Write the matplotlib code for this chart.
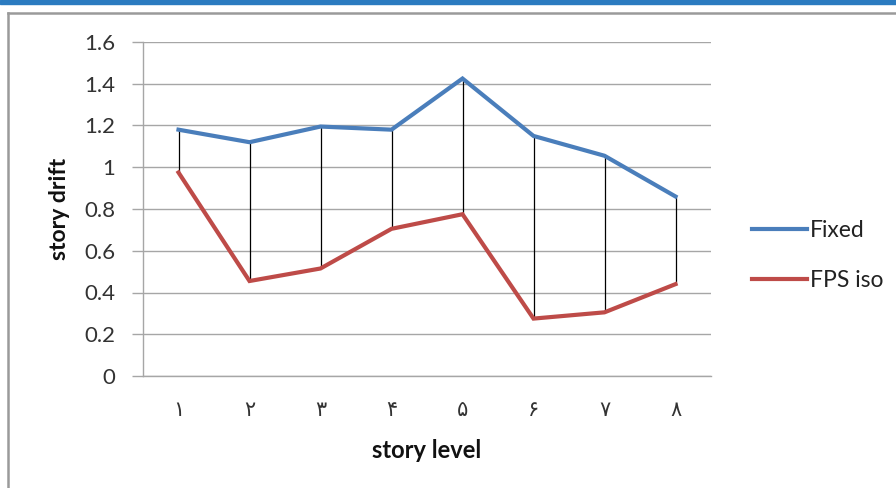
import numpy as np
import matplotlib
matplotlib.use("Agg")
import matplotlib.pyplot as plt
from matplotlib.lines import Line2D
from matplotlib.patches import Rectangle

plt.rcParams.update({
    "font.family": ["Lato", "DejaVu Sans"],
    "font.size": 14,
})

# data
levels = [1, 2, 3, 4, 5, 6, 7, 8]
level_labels = ["۱", "۲", "۳", "۴", "۵", "۶", "۷", "۸"]
fixed = [1.18, 1.12, 1.195, 1.18, 1.425, 1.15, 1.055, 0.86]
fps_iso = [0.975, 0.455, 0.515, 0.705, 0.775, 0.275, 0.305, 0.44]
yticks = [0, 0.2, 0.4, 0.6, 0.8, 1, 1.2, 1.4, 1.6]
ytick_labels = ["0", "0.2", "0.4", "0.6", "0.8", "1", "1.2", "1.4", "1.6"]

blue = "#4a7ebb"
red = "#be4b48"
grid_color = "#a6a6a6"
text_color = "#333333"

fig = plt.figure(figsize=(8.96, 4.88), dpi=100)
ax = fig.add_axes([143/896, 1-376/488, 568/896, 334/488])

# page decoration: blue band on top and grey frame
fig.patches.append(Rectangle((0, 1-4/488), 1, 4/488, transform=fig.transFigure,
                             color="#2b7bc0", zorder=0))
fig.add_artist(Line2D([8/896, 1], [1-13/488, 1-13/488], color="#9a9a9a", lw=1.8))
fig.add_artist(Line2D([8/896, 8/896], [0, 1-13/488], color="#9a9a9a", lw=1.8))

# high-low lines
ax.vlines(levels, fps_iso, fixed, colors="black", lw=0.9, zorder=2)
ax.plot(levels, fixed, color=blue, lw=3, label="Fixed", zorder=3,
        solid_joinstyle="miter")
ax.plot(levels, fps_iso, color=red, lw=3, label="FPS iso", zorder=3,
        solid_joinstyle="miter")

ax.set_xlim(0.5, 8.5)
ax.set_ylim(0, 1.6)
ax.set_yticks(yticks)
ax.set_yticklabels(ytick_labels)
ax.set_xticks(levels)
ax.set_xticklabels(level_labels, family=["DejaVu Sans"], fontsize=15, color=text_color)
ax.grid(axis="y", color=grid_color, lw=1)
ax.set_axisbelow(True)

for s in ["top", "right"]:
    ax.spines[s].set_visible(False)
for s in ["left", "bottom"]:
    ax.spines[s].set_color(grid_color)
    ax.spines[s].set_linewidth(1)
ax.tick_params(axis="y", length=8, width=1, color=grid_color, pad=12,
               labelcolor=text_color, labelsize=16)
ax.tick_params(axis="x", length=0, pad=17)

ax.set_ylabel("story drift", fontweight="bold", fontsize=16.5, color="#111111")
ax.yaxis.set_label_coords((60-143)/568, 0.5)
ax.yaxis.label.set_va("center")
ax.set_xlabel("story level", fontweight="bold", fontsize=17, color="#111111")
ax.xaxis.label.set_va("center")
ax.xaxis.set_label_coords(0.5, (376-451)/334)

leg = ax.legend(loc="center left", bbox_to_anchor=(752/896, 1-255.5/488),
                bbox_transform=fig.transFigure, frameon=False, borderpad=0,
                borderaxespad=0, handlelength=2.4, handletextpad=0.12,
                labelspacing=1.3, fontsize=16.5)
for t in leg.get_texts():
    t.set_color("#222222")

fig.savefig("out.png", dpi=100)
